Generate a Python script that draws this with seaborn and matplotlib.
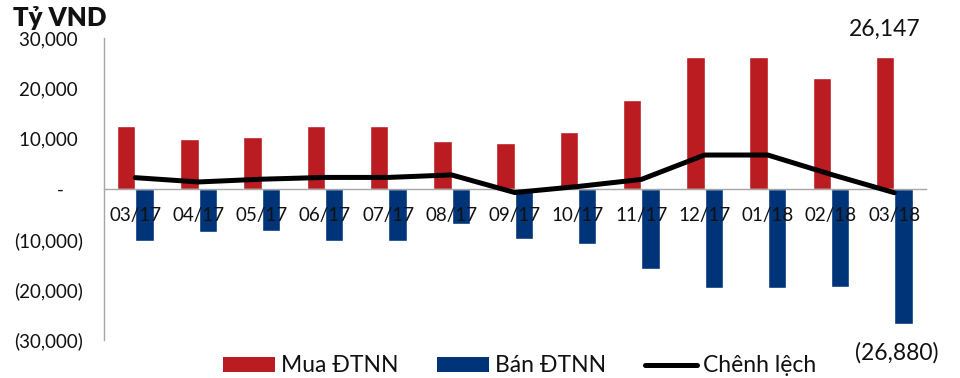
import numpy as np
import pandas as pd
import matplotlib
matplotlib.use("Agg")
import matplotlib.pyplot as plt
from matplotlib.patches import Patch
from matplotlib.lines import Line2D
import seaborn as sns

# Monthly foreign investor trading (billion VND)
months = ["03/17", "04/17", "05/17", "06/17", "07/17", "08/17", "09/17",
          "10/17", "11/17", "12/17", "01/18", "02/18", "03/18"]
buy = [12600, 9900, 10350, 12600, 12600, 9450, 9100,
       11300, 17750, 26200, 26200, 22000, 26147]
sell = [-10300, -8600, -8250, -10300, -10300, -6900, -9850,
        -10950, -15850, -19600, -19600, -19400, -26880]
net = [2250, 1400, 1950, 2300, 2300, 2800, -700,
       500, 1900, 6750, 6750, 2900, -733]

y_ticks = [30000, 20000, 10000, 0, -10000, -20000, -30000]
y_labels = ["30,000 ", "20,000 ", "10,000 ", "-    ", "(10,000)", "(20,000)", "(30,000)"]

series_buy = "Mua ĐTNN"
series_sell = "Bán ĐTNN"
series_net = "Chênh lệch"

RED = "#BA1C21"
BLUE = "#003479"
GRID = "#A6A6A6"
TEXT = "#111111"

sns.set_theme(style="white")
plt.rcParams["font.family"] = ["Lato", "DejaVu Sans"]

df = pd.DataFrame({
    "month": months * 2,
    "value": buy + sell,
    "series": [series_buy] * len(months) + [series_sell] * len(months),
})

fig = plt.figure(figsize=(9.6, 3.78), dpi=100)
ax = fig.add_axes([0.108, 0.1005, 0.8565, 0.799])

sns.barplot(data=df, x="month", y="value", hue="series", order=months,
            hue_order=[series_buy, series_sell],
            palette={series_buy: RED, series_sell: BLUE},
            width=0.58, dodge=True, saturation=1, legend=False, ax=ax,
            zorder=1)

sns.lineplot(x=months, y=net, sort=False, color="black", linewidth=3.6,
             ax=ax, zorder=3)

ax.set_xlim(-0.5, len(months) - 0.5)
ax.set_ylim(-30000, 30000)
ax.set_xlabel("")
ax.set_ylabel("")

for side in ["top", "right"]:
    ax.spines[side].set_visible(False)
ax.spines["left"].set_color(GRID)
ax.spines["left"].set_linewidth(1.0)
ax.spines["bottom"].set_position(("data", 0))
ax.spines["bottom"].set_color(GRID)
ax.spines["bottom"].set_linewidth(1.0)
ax.spines["bottom"].set_zorder(2)

ax.set_yticks(y_ticks)
ax.set_yticklabels(y_labels)
ax.tick_params(axis="y", length=0, pad=15, labelsize=13.5, labelcolor=TEXT)
ax.tick_params(axis="x", length=0, pad=13, labelsize=13.5, labelcolor=TEXT)
ax.xaxis.set_zorder(4)

# End-point value labels
last = len(months) - 1
ax.annotate(f"{buy[last]:,}", xy=(last - 0.145, buy[last]), xytext=(0, 20),
            textcoords="offset points", ha="center", va="center",
            fontsize=16.5, color=TEXT, annotation_clip=False)
ax.annotate(f"({abs(sell[last]):,})", xy=(last + 0.145, sell[last]), xytext=(-5, -20.5),
            textcoords="offset points", ha="center", va="center",
            fontsize=16.5, color=TEXT, annotation_clip=False)

fig.text(13 / 960, 1 - 26 / 378, "Tỷ VND", fontsize=18.5, fontweight="heavy",
         ha="left", va="baseline", color=TEXT)

handles = [
    Patch(facecolor=RED, edgecolor="none", label=series_buy),
    Patch(facecolor=BLUE, edgecolor="none", label=series_sell),
    Line2D([0], [0], color="black", linewidth=3.6, label=series_net),
]
fig.legend(handles=handles, loc="center", bbox_to_anchor=(0.541, 0.032), ncol=3,
           frameon=False, fontsize=16.5, handlelength=2.27, handleheight=0.61,
           handletextpad=0.25, columnspacing=1.7, borderpad=0,
           labelcolor=TEXT)

fig.savefig("out.png", dpi=100)
